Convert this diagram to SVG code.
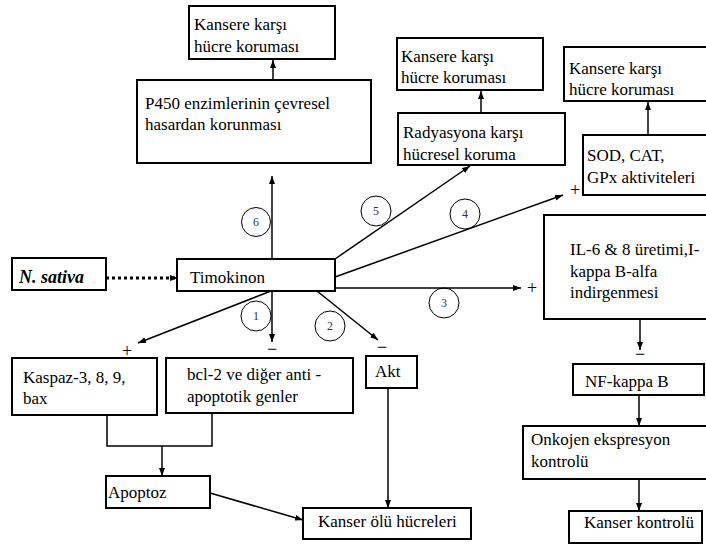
<svg xmlns="http://www.w3.org/2000/svg" width="706" height="545" viewBox="0 0 706 545">
<style>
.box{fill:#fff;stroke:#000;stroke-width:2}
.t{font-family:"Liberation Serif","Times New Roman",serif;font-size:17px;fill:#000}
.n{font-family:"Liberation Serif","Times New Roman",serif;font-size:12px;fill:#333;text-anchor:middle}
.c{fill:none;stroke:#000;stroke-width:1}
.l{fill:none;stroke:#000;stroke-width:1.5}
.s{font-family:"Liberation Serif","Times New Roman",serif;font-size:18px;fill:#000;text-anchor:middle}
</style>
<defs>
<marker id="ah" markerWidth="8" markerHeight="6" refX="8" refY="3" orient="auto" markerUnits="userSpaceOnUse">
<path d="M0,0 L8,3 L0,6 z" fill="#000"/>
</marker>
</defs>
<rect width="706" height="545" fill="#fff"/>

<g id="connectors">
<line class="l" x1="273" y1="80" x2="273" y2="60" marker-end="url(#ah)"/>
<line class="l" x1="481" y1="113" x2="481" y2="91" marker-end="url(#ah)"/>
<line class="l" x1="648" y1="135" x2="648" y2="102" marker-end="url(#ah)"/>
<line x1="106" y1="278" x2="178" y2="278" stroke="#000" stroke-width="3" stroke-dasharray="3,3" marker-end="url(#ah)"/>
<line class="l" x1="272" y1="259" x2="272" y2="176" marker-end="url(#ah)"/>
<line class="l" x1="335" y1="259" x2="470" y2="166" marker-end="url(#ah)"/>
<line class="l" x1="335" y1="277" x2="563" y2="195" marker-end="url(#ah)"/>
<line class="l" x1="335" y1="288" x2="521" y2="288" marker-end="url(#ah)"/>
<line class="l" x1="317" y1="291" x2="378" y2="340" marker-end="url(#ah)"/>
<line class="l" x1="272" y1="291" x2="272" y2="342" marker-end="url(#ah)"/>
<line class="l" x1="271" y1="291" x2="138" y2="343" marker-end="url(#ah)"/>
<line class="l" x1="640" y1="319" x2="640" y2="350" marker-end="url(#ah)"/>
<line class="l" x1="639" y1="395" x2="639" y2="426" marker-end="url(#ah)"/>
<line class="l" x1="639" y1="479" x2="639" y2="511" marker-end="url(#ah)"/>
<polyline class="l" points="107,415 107,446 212,446 212,413"/>
<line class="l" x1="162" y1="446" x2="162" y2="476" marker-end="url(#ah)"/>
<line class="l" x1="210" y1="493" x2="303" y2="520" marker-end="url(#ah)"/>
<line class="l" x1="388" y1="388" x2="388" y2="508" marker-end="url(#ah)"/>
<circle class="c" cx="256" cy="222" r="14.5"/><text class="n" x="256" y="226">6</text>
<circle class="c" cx="376" cy="211" r="15"/><text class="n" x="376" y="215">5</text>
<circle class="c" cx="465" cy="214" r="15"/><text class="n" x="465" y="218">4</text>
<circle class="c" cx="444" cy="303" r="15"/><text class="n" x="444" y="307">3</text>
<circle class="c" cx="330" cy="326" r="15"/><text class="n" x="330" y="330">2</text>
<circle class="c" cx="256" cy="316" r="15"/><text class="n" x="256" y="320">1</text>
<text class="s" x="127" y="357">+</text>
<text class="s" x="575" y="196">+</text>
<text class="s" x="532" y="294">+</text>
<text class="s" x="272" y="355">−</text>
<text class="s" x="382" y="353">−</text>
<text class="s" x="640" y="360">−</text>
</g>

<g id="n-kansere1"><rect class="box" x="189" y="6" width="146" height="53"/>
<text class="t" x="194" y="30">Kansere karşı</text><text class="t" x="194" y="52">hücre koruması</text></g>

<g id="n-p450"><rect class="box" x="137" y="80" width="234" height="83"/>
<text class="t" x="145" y="109">P450 enzimlerinin çevresel</text><text class="t" x="145" y="130">hasardan korunması</text></g>

<g id="n-kansere2"><rect class="box" x="397" y="38" width="146" height="52"/>
<text class="t" x="401" y="62">Kansere karşı</text><text class="t" x="401" y="83">hücre koruması</text></g>

<g id="n-radyasyon"><rect class="box" x="398" y="113" width="167" height="52"/>
<text class="t" x="403" y="138">Radyasyona karşı</text><text class="t" x="403" y="160">hücresel koruma</text></g>

<g id="n-kansere3"><rect class="box" x="564" y="47" width="146" height="54"/>
<text class="t" x="569" y="74">Kansere karşı</text><text class="t" x="569" y="95">hücre koruması</text></g>

<g id="n-sod"><rect class="box" x="583" y="135" width="127" height="60"/>
<text class="t" x="587" y="161">SOD, CAT,</text><text class="t" x="587" y="183">GPx aktiviteleri</text></g>

<g id="n-nsativa"><rect class="box" x="12" y="258" width="94" height="32"/>
<text x="19" y="283" font-family="'Liberation Serif','Times New Roman',serif" font-size="18" font-weight="bold" font-style="italic">N. sativa</text>
<text x="93" y="283" font-family="'Liberation Serif',serif" font-size="10" fill="#bbb">.</text></g>

<g id="n-timokinon"><rect class="box" x="177" y="259" width="158" height="32"/>
<text class="t" x="190" y="283">Timokinon</text></g>

<g id="n-il6"><rect class="box" x="544" y="215" width="166" height="104"/>
<text class="t" x="570" y="255">IL-6 &amp; 8 üretimi,I-</text><text class="t" x="570" y="277">kappa B-alfa</text><text class="t" x="570" y="298">indirgenmesi</text></g>

<g id="n-kaspaz"><rect class="box" x="12" y="358" width="145" height="57"/>
<text class="t" x="23" y="383">Kaspaz-3, 8, 9,</text><text class="t" x="23" y="404">bax</text></g>

<g id="n-bcl2"><rect class="box" x="166" y="358" width="187" height="55"/>
<text class="t" x="187" y="380">bcl-2 ve diğer anti -</text><text class="t" x="187" y="402">apoptotik genler</text></g>

<g id="n-akt"><rect class="box" x="366" y="356" width="51" height="32"/>
<text class="t" x="375" y="377">Akt</text></g>

<g id="n-nfkappa"><rect class="box" x="573" y="364" width="131" height="31"/>
<text class="t" x="585" y="387">NF-kappa B</text></g>

<g id="n-onkojen"><rect class="box" x="523" y="426" width="187" height="53"/>
<text class="t" x="531" y="445">Onkojen ekspresyon</text><text class="t" x="531" y="467">kontrolü</text></g>

<g id="n-apoptoz"><rect class="box" x="106" y="476" width="104" height="32"/>
<text class="t" x="108" y="498">Apoptoz</text></g>

<g id="n-kanserolu"><rect class="box" x="303" y="508" width="168" height="31"/>
<text class="t" x="318" y="527">Kanser ölü hücreleri</text></g>

<g id="n-kanserkontrol"><rect class="box" x="569" y="511" width="133" height="32"/>
<text class="t" x="584" y="528">Kanser kontrolü</text></g>
</svg>
